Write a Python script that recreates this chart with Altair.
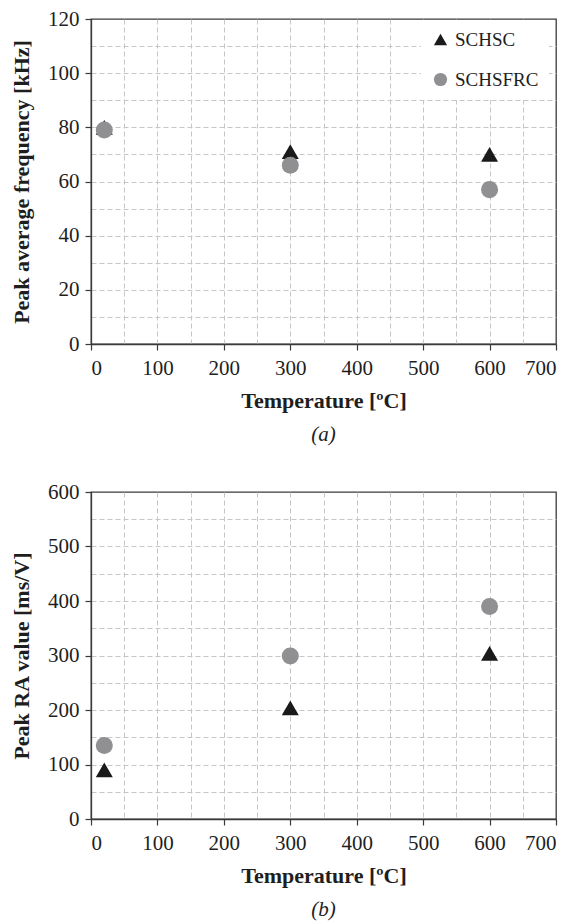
import altair as alt
import pandas as pd

# ---- data ----
temps = [20, 300, 600]
series_names = ["SCHSC", "SCHSFRC"]
freq_schsc = [80, 71, 70]
freq_schsfrc = [79, 66, 57]
ra_schsc = [90, 204, 304]
ra_schsfrc = [135, 299, 390]

x_ticks = list(range(0, 701, 50))
freq_ticks = list(range(0, 121, 10))
ra_ticks = list(range(0, 601, 50))

SERIF = "Liberation Serif, Times New Roman, serif"
DARK = "#3a3a3a"
TEXT = "#1e1e1e"
GRID = "#c6c6c6"
COLORS = ["#1a1a1a", "#909092"]
SHAPES = ["triangle-up", "circle"]


def axis(ticks, step, lo, hi, title, label_pad, title_pad):
    return alt.Axis(
        values=ticks, title=title,
        labelFont=SERIF, labelFontSize=21, labelColor=TEXT, labelPadding=label_pad,
        titleFont=SERIF, titleFontSize=22, titleFontWeight="bold", titleColor=TEXT,
        titlePadding=title_pad,
        labelExpr=f"datum.value % {step} === 0 ? datum.label : ''",
        tickColor={"condition": {"test": f"datum.value % {step} === 0", "value": DARK},
                   "value": "transparent"},
        gridColor={"condition": {"test": f"datum.value === {lo} || datum.value === {hi}",
                                 "value": "transparent"},
                   "value": GRID},
    )


def panel(vals_a, vals_b, ymax, yticks, ystep, ytitle, caption, h):
    df = pd.DataFrame({
        "T": temps + temps,
        "v": vals_a + vals_b,
        "s": [series_names[0]] * len(temps) + [series_names[1]] * len(temps),
    })
    legend = alt.Legend(
        title=None, orient="none", legendX=330, legendY=1,
        fillColor="white", padding=10, symbolSize=175, symbolStrokeWidth=0,
        labelFont=SERIF, labelFontSize=19, labelColor=TEXT, labelOffset=5,
        rowPadding=20, symbolOpacity=1,
    )
    return alt.Chart(df).mark_point(filled=True, opacity=1, size=290).encode(
        x=alt.X(
            "T:Q",
            scale=alt.Scale(domain=[0, 700], nice=False, zero=False),
            axis=axis(x_ticks, 100, 0, 700, "Temperature [ºC]", 7, 12),
        ),
        y=alt.Y(
            "v:Q",
            scale=alt.Scale(domain=[0, ymax], nice=False),
            axis=axis(yticks, ystep, 0, ymax, ytitle, 6, 14),
        ),
        shape=alt.Shape("s:N", scale=alt.Scale(domain=series_names, range=SHAPES), legend=legend),
        color=alt.Color("s:N", scale=alt.Scale(domain=series_names, range=COLORS), legend=legend),
        order=alt.Order("s:N"),
    ).properties(
        width=465, height=h,
        title=alt.TitleParams(caption, orient="bottom", font=SERIF, fontSize=21,
                              fontStyle="italic", fontWeight="normal", color=TEXT, offset=13),
    )


top = panel(freq_schsc, freq_schsfrc, 120, freq_ticks, 20,
            "Peak average frequency [kHz]", "(a)", 325)
bottom = panel(ra_schsc, ra_schsfrc, 600, ra_ticks, 100,
               "Peak RA value [ms/V]", "(b)", 327)

chart = alt.vconcat(top, bottom, spacing=34).properties(
    padding={"left": 9, "top": 7, "right": 5, "bottom": 5},
    background="white",
).configure_view(
    stroke=DARK, strokeWidth=1.3,
).configure_axis(
    domainColor=DARK, domainWidth=1.3,
    tickSize=6, tickWidth=1.2,
    grid=True, gridDash=[5, 3], gridWidth=1,
)

chart.save("out.html", embed_options={"renderer": "svg", "actions": False})
